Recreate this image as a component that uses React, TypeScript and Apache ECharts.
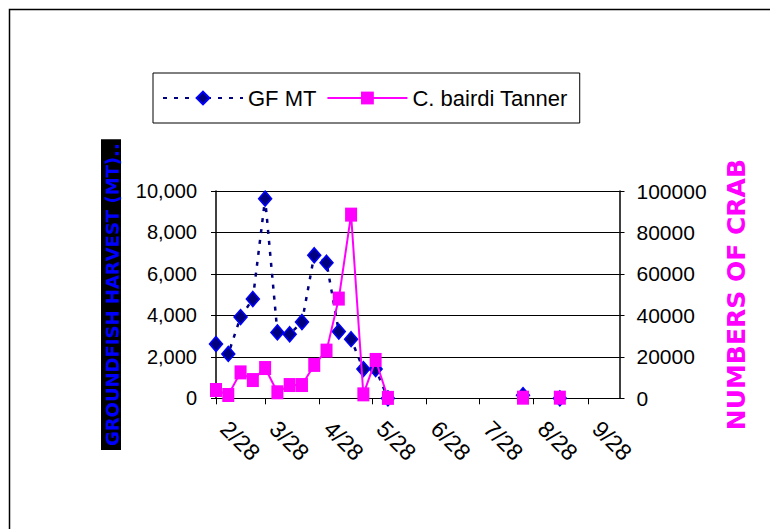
import React, { useEffect, useRef } from "react";
import * as echarts from "echarts";

// ---- data ----
const weekDates: string[] = [
  "2003-02-28", "2003-03-07", "2003-03-14", "2003-03-21", "2003-03-28",
  "2003-04-04", "2003-04-11", "2003-04-18", "2003-04-25", "2003-05-02",
  "2003-05-09", "2003-05-16", "2003-05-23", "2003-05-30", "2003-06-06",
  "2003-06-13", "2003-08-22", "2003-08-29", "2003-09-12",
];
const gfMT: (number | null)[] = [
  2620, 2140, 3920, 4790, 9630, 3180, 3090, 3680, 6900, 6540,
  3220, 2850, 1410, 1410, 0, null, 150, null, 0,
];
const crabCounts: (number | null)[] = [
  4000, 1600, 12500, 8800, 14600, 2900, 6400, 6400, 16100, 23000,
  48100, 88600, 1900, 18500, 200, null, 300, null, 300,
];
const tickDates: string[] = [
  "2003-02-28", "2003-03-28", "2003-04-28", "2003-05-28",
  "2003-06-28", "2003-07-28", "2003-08-28", "2003-09-28",
];
const xMin = "2003-02-28";
const xMax = "2003-10-16";
const seriesNames = ["GF MT", "C. bairdi Tanner"];
const leftAxisTitle = "GROUNDFISH HARVEST (MT)..";
const rightAxisTitle = "NUMBERS OF CRAB";

const SANS = "'Liberation Sans', Arial, sans-serif";
const DAY = 86400000;

function toDate(s: string): Date {
  const [y, m, d] = s.split("-").map(Number);
  return new Date(Date.UTC(y, m - 1, d));
}
const origin = toDate(xMin).getTime();
// day offset from the axis origin (x-axis is a day-count value axis)
function toDay(s: string): number {
  return Math.round((toDate(s).getTime() - origin) / DAY);
}
function dayLabel(v: number): string {
  const d = new Date(origin + v * DAY);
  return `${d.getUTCMonth() + 1}/${d.getUTCDate()}`;
}

export default function App() {
  const ref = useRef<HTMLDivElement>(null);
  useEffect(() => {
    if (!ref.current) return;
    const chart = echarts.init(ref.current, undefined, { renderer: "svg" });
    const gfData = weekDates.map((d, i) => [toDay(d), gfMT[i]]);
    const crabData = weekDates.map((d, i) => [toDay(d), crabCounts[i]]);
    const ticks = tickDates.map(toDay);
    chart.setOption({
      animation: false,
      backgroundColor: "#fff",
      graphic: [
        {
          type: "rect",
          silent: true,
          shape: { x: 9.5, y: 9.5, width: 900, height: 700 },
          style: { fill: "none", stroke: "#000", lineWidth: 1.5 },
        },
      ],
      legend: {
        left: 153,
        top: 73,
        data: seriesNames,
        backgroundColor: "#fff",
        borderColor: "#000",
        borderWidth: 1,
        borderRadius: 0,
        padding: [10, 12, 10, 9],
        itemWidth: 80,
        itemHeight: 16,
        itemGap: 10,
        textStyle: {
          fontFamily: SANS,
          fontSize: 22,
          color: "#000",
          lineHeight: 30,
        },
      },
      grid: {
        left: 216,
        right: 150.5,
        top: 191,
        bottom: 130.7,
        outerBoundsMode: "none",
      },
      xAxis: {
        type: "value",
        min: toDay(xMin),
        max: toDay(xMax),
        axisLine: { show: true, lineStyle: { color: "#000", width: 1 } },
        axisTick: {
          show: true,
          customValues: ticks,
          length: 6,
          lineStyle: { color: "#000", width: 1 },
        },
        axisLabel: {
          customValues: ticks,
          rotate: -45,
          margin: 18,
          padding: [0, 0, 0, 12],
          fontFamily: SANS,
          fontSize: 23,
          color: "#000",
          formatter: (v: number) => dayLabel(v),
        },
        splitLine: { show: false },
      },
      yAxis: [
        {
          type: "value",
          min: 0,
          max: 10000,
          interval: 2000,
          position: "left",
          name: leftAxisTitle,
          nameLocation: "middle",
          nameRotate: 90,
          nameGap: 95,
          nameTextStyle: {
            color: "#0000FF",
            fontFamily: "DejaVu Sans",
            fontWeight: "bold",
            fontSize: 18,
            backgroundColor: "#000",
            padding: [3, 4, 1, 4],
            lineHeight: 16,
          },
          axisLine: { show: true, lineStyle: { color: "#000", width: 1.5 } },
          axisTick: { show: true, length: 5, lineStyle: { color: "#000" } },
          axisLabel: {
            margin: 19,
            fontFamily: SANS,
            fontSize: 20,
            color: "#000",
            formatter: (v: number) => v.toLocaleString("en-US"),
          },
          splitLine: { show: true, lineStyle: { color: "#000", width: 1 } },
        },
        {
          type: "value",
          min: 0,
          max: 100000,
          interval: 20000,
          position: "right",
          name: rightAxisTitle,
          nameLocation: "middle",
          nameRotate: 90,
          nameGap: 104,
          nameTextStyle: {
            color: "#FF00FF",
            fontFamily: "DejaVu Sans",
            fontWeight: "bold",
            fontSize: 25,
          },
          axisLine: { show: true, lineStyle: { color: "#000", width: 1.5 } },
          axisTick: { show: true, length: 5, lineStyle: { color: "#000" } },
          axisLabel: {
            margin: 17,
            fontFamily: SANS,
            fontSize: 21,
            color: "#000",
            formatter: (v: number) => String(v),
          },
          splitLine: { show: false },
        },
      ],
      series: [
        {
          name: seriesNames[0],
          type: "line",
          yAxisIndex: 0,
          data: gfData,
          connectNulls: false,
          symbol: "diamond",
          symbolSize: [13, 15],
          itemStyle: { color: "#000080", borderColor: "#0000FF", borderWidth: 1.5 },
          lineStyle: { color: "#000080", width: 2.5, type: [4, 7] },
          z: 2,
        },
        {
          name: seriesNames[1],
          type: "line",
          yAxisIndex: 1,
          data: crabData,
          connectNulls: false,
          symbol: "rect",
          symbolSize: [12, 14],
          itemStyle: { color: "#FF00FF", borderColor: "#FF00FF", borderWidth: 0 },
          lineStyle: { color: "#FF00FF", width: 2 },
          z: 3,
        },
      ],
    });
    return () => chart.dispose();
  }, []);
  return (
    <div
      ref={ref}
      style={{ position: "fixed", left: 0, top: 0, width: 770, height: 529 }}
    />
  );
}
